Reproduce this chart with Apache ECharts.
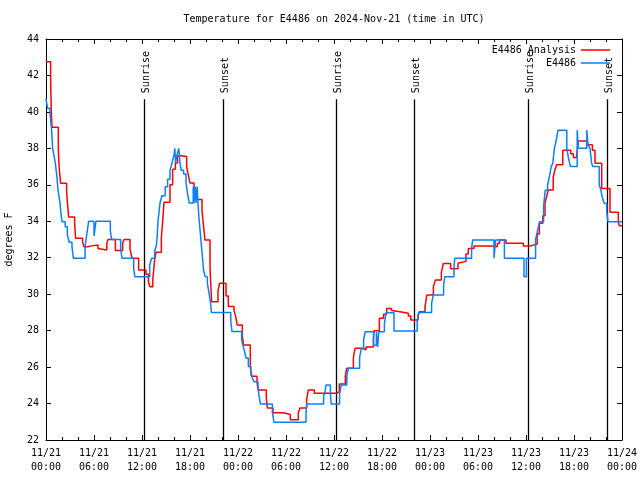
<!DOCTYPE html>
<html><head><meta charset="utf-8">
<script src="https://cdn.jsdelivr.net/npm/echarts@6/dist/echarts.min.js"></script>
<style>html,body{margin:0;padding:0;background:#fff}#c{width:640px;height:480px}</style>
</head><body><div id="c"></div>
<script>
const titleText = 'Temperature for E4486 on 2024-Nov-21 (time in UTC)';
const yAxisName = 'degrees F';
const seriesNames = ['E4486 Analysis', 'E4486'];
const xTickLabels = ['11/21\n00:00','11/21\n06:00','11/21\n12:00','11/21\n18:00','11/22\n00:00','11/22\n06:00','11/22\n12:00','11/22\n18:00','11/23\n00:00','11/23\n06:00','11/23\n12:00','11/23\n18:00','11/24\n00:00'];
const sunHours = [12.28, 22.14, 36.2, 46.06, 60.2, 70.08];
const sunLabels = ['Sunrise','Sunset','Sunrise','Sunset','Sunrise','Sunset'];

const analysisHours = [0,0.58,0.66,0.75,1.54,1.65,1.83,2.58,2.7,2.83,3.58,3.7,4.58,4.75,5.2,5.4,5.7,6.5,6.7,7.6,7.75,8.67,9.58,9.75,10.5,10.75,11.58,12.5,12.8,13.0,13.35,13.58,13.75,14.42,14.58,14.75,15.5,15.83,16.17,16.45,16.83,17.58,17.8,18.0,18.5,19.5,19.7,19.875,20.5,20.7,21.5,21.7,22.5,22.79,23.5,23.7,23.9,24.54,24.7,25.54,25.67,26.375,26.5,27.54,27.67,28.375,29.67,30.54,31.54,31.75,32.58,32.79,33.54,36.4,36.67,37.42,37.58,38.42,38.625,39.46,40.0,40.92,41.0,41.67,42.2,42.58,43.2,43.4,44.25,45.3,45.6,46.5,46.67,47.375,47.6,48.42,48.67,49.42,49.67,50.58,51.5,51.75,52.5,52.79,53.5,55.7,56.42,56.7,57.5,59.67,60.6,61.4,61.67,62.1,62.375,62.6,62.79,63.4,63.6,63.83,64.6,65.6,65.92,66.3,66.54,67.58,68.3,68.625,69.46,70.5,71.54,71.67,72];
const analysisTemps = [42.75,41.8,40.0,39.16,38.0,36.9,36.08,35.6,34.9,34.23,33.9,33.07,32.85,32.6,32.5,32.65,32.7,32.5,32.42,32.8,33.0,32.4,32.8,33.0,32.5,31.97,31.33,31.1,30.7,30.41,30.8,31.87,32.3,33.1,33.98,35.04,36.0,36.85,37.2,37.6,37.55,37.0,36.5,36.1,35.2,34.6,33.7,32.97,31.5,29.59,30.2,30.6,29.9,29.32,29.1,28.8,28.31,27.7,27.21,26.0,25.5,25.2,24.75,24.3,23.75,23.5,23.4,23.11,23.5,23.75,24.2,24.75,24.57,24.65,25.07,25.5,25.93,26.5,27.03,26.95,27.1,27.5,28.0,28.68,28.9,29.22,29.1,29.04,28.95,28.8,28.58,28.85,29.04,29.3,29.95,30.4,30.78,31.2,31.69,31.4,31.7,31.8,32.2,32.5,32.65,32.6,32.8,32.97,32.79,32.65,32.75,33.3,33.89,34.3,34.98,35.4,35.72,36.4,36.8,37.1,37.9,37.7,37.5,37.6,38.4,38.2,37.9,37.18,35.8,34.5,34.0,33.75,33.75];

const obsHours = [0,0.2,0.5,0.7,0.83,1.0,1.17,1.35,1.5,1.75,1.85,2.0,2.4,2.67,2.9,3.25,3.42,4.88,5.1,5.33,6.0,6.25,8.04,8.2,9.33,9.5,10.96,11.1,12.96,13.2,13.58,13.8,13.9,14.0,14.25,14.5,14.9,15.2,15.5,15.75,16.0,16.1,16.2,16.35,16.6,16.75,16.9,17.2,17.5,17.7,17.9,18.4,18.5,18.65,18.75,18.9,19.0,19.1,19.3,19.5,19.7,19.9,20.17,20.4,20.58,20.67,23.1,23.25,24.46,24.6,24.8,25.0,25.29,25.6,25.8,26.0,26.5,26.6,26.8,28.3,28.5,32.5,32.6,34.7,34.875,35.0,35.55,35.65,36.7,36.9,37.6,37.8,39.2,39.4,39.7,39.9,40.95,41.3,41.45,41.6,42.3,42.5,43.5,46.4,46.6,48.2,48.4,49.7,49.85,51.0,51.1,53.2,53.33,56.0,56.2,57.3,59.75,60.05,61.2,61.45,61.7,62.2,62.4,62.7,62.95,63.15,63.35,63.55,63.8,64.0,65.1,65.3,65.55,66.4,66.55,67.6,67.75,68.0,68.2,68.35,69.15,69.35,69.6,69.8,70.1,70.25,72];
const obsTemps = [40.71,40.2,39.96,39.0,38.0,37.6,37.18,36.5,35.72,35.0,34.5,33.98,33.7,33.25,32.85,32.6,31.97,32.6,33.3,34.0,33.2,34.0,33.5,33.0,32.5,31.97,31.4,30.96,31.6,31.97,32.33,32.7,33.2,34.0,35.0,35.4,35.9,36.3,36.78,37.2,37.64,38.0,37.2,37.6,38.0,37.2,36.8,36.6,36.1,35.5,35.0,35.9,35.0,35.9,35.0,35.9,35.0,34.3,33.3,32.3,31.3,30.96,30.6,30.0,29.5,29.0,28.5,27.95,27.5,27.21,26.9,26.5,26.03,25.8,25.4,25.2,25.0,24.5,23.98,23.5,22.98,23.5,23.98,24.4,24.65,25.02,24.5,23.98,24.5,25.02,25.5,25.93,26.5,27.03,27.5,27.94,27.2,27.94,27.1,27.94,28.4,28.98,27.98,28.5,29.0,29.5,29.95,30.5,30.96,31.5,31.97,32.5,32.97,31.97,32.97,31.97,30.96,31.97,33.0,33.5,33.98,34.8,35.7,35.99,36.5,37.0,37.18,38.0,38.5,39.0,38.0,37.5,37.0,39.0,38.0,39.0,38.2,38.0,37.2,37.0,36.0,35.72,35.2,34.98,34.5,33.98,33.98];

const FONT = 'DejaVu Sans Mono';
const Y_MIN = 22, Y_MAX = 44, X_MIN = 0, X_MAX = 72;
const SUN_LINE_TOP = 40.7;
const RED = '#ff0000', BLUE = '#0a80ff';

const chart = echarts.init(document.getElementById('c'), null, {renderer: 'canvas'});
const pair = (hs, ts) => hs.map((h, i) => [h, ts[i]]);
const xBase = {
  type: 'value', min: X_MIN, max: X_MAX, interval: 6,
  axisLine: {show: true, onZero: false, lineStyle: {color: '#000', width: 1}},
  axisTick: {show: true, inside: true, length: 5, lineStyle: {color: '#000'}},
  minorTick: {show: true, splitNumber: 3, length: 3, lineStyle: {color: '#000'}},
  splitLine: {show: false}
};
const yBase = {
  type: 'value', min: Y_MIN, max: Y_MAX, interval: 2,
  axisLine: {show: true, onZero: false, lineStyle: {color: '#000', width: 1}},
  axisTick: {show: true, inside: true, length: 5, lineStyle: {color: '#000'}},
  splitLine: {show: false}
};
chart.setOption({
  animation: false,
  backgroundColor: '#fff',
  textStyle: {fontFamily: FONT},
  title: {
    text: titleText, left: 334, top: 14, padding: 0, textAlign: 'center',
    textStyle: {fontFamily: FONT, fontSize: 10, fontWeight: 'normal', color: '#000'}
  },
  legend: {
    orient: 'vertical', right: 30, top: 45, padding: 0, align: 'right',
    itemWidth: 29, itemHeight: 1.5, itemGap: 3,
    textStyle: {fontFamily: FONT, fontSize: 10, color: '#000'},
    data: [
      {name: seriesNames[0], icon: 'rect', itemStyle: {color: RED}},
      {name: seriesNames[1], icon: 'rect', itemStyle: {color: BLUE}}
    ]
  },
  grid: {left: 46, top: 39, right: 18, bottom: 40, containLabel: false, outerBoundsMode: 'none'},
  xAxis: [
    Object.assign({}, xBase, {
      position: 'bottom',
      axisLabel: {show: true, margin: 6, color: '#000', fontFamily: FONT, fontSize: 10, lineHeight: 14,
        formatter: v => xTickLabels[Math.round(v / 6)] || ''}
    }),
    Object.assign({}, xBase, {position: 'top', axisLabel: {show: false}})
  ],
  yAxis: [
    Object.assign({}, yBase, {
      position: 'left', name: yAxisName, nameLocation: 'middle', nameGap: 32, nameRotate: 90,
      nameTextStyle: {fontFamily: FONT, fontSize: 10, color: '#000'},
      axisLabel: {show: true, margin: 7, color: '#000', fontFamily: FONT, fontSize: 10}
    }),
    Object.assign({}, yBase, {position: 'right', axisLabel: {show: false}})
  ],
  series: [
    {
      type: 'custom', name: 'sun', xAxisIndex: 0, yAxisIndex: 0, silent: true, z: 1,
      data: sunHours.map(h => [h, Y_MIN]),
      encode: {x: 0, y: 1},
      renderItem: function (params, api) {
        const h = api.value(0);
        const top = api.coord([h, SUN_LINE_TOP]);
        const bot = api.coord([h, Y_MIN]);
        const x = Math.round(top[0]) + 0.5;
        return {
          type: 'group',
          children: [
            {type: 'line', shape: {x1: x, y1: top[1], x2: x, y2: bot[1]},
             style: {stroke: '#000', lineWidth: 1.3}},
            {type: 'text', x: x + 1.5, y: top[1] - 6, rotation: Math.PI / 2,
             style: {text: sunLabels[params.dataIndex], fill: '#000',
               font: '10px ' + FONT, textAlign: 'left', textVerticalAlign: 'middle',
               align: 'left', verticalAlign: 'middle'}}
          ]
        };
      }
    },
    {
      type: 'line', name: seriesNames[0], step: 'end', showSymbol: false, symbol: 'none', z: 3,
      data: pair(analysisHours, analysisTemps),
      lineStyle: {color: RED, width: 1.5}, itemStyle: {color: RED}
    },
    {
      type: 'line', name: seriesNames[1], step: 'end', showSymbol: false, symbol: 'none', z: 4,
      data: pair(obsHours, obsTemps),
      lineStyle: {color: BLUE, width: 1.5}, itemStyle: {color: BLUE}
    }
  ]
});
</script>
</body></html>
